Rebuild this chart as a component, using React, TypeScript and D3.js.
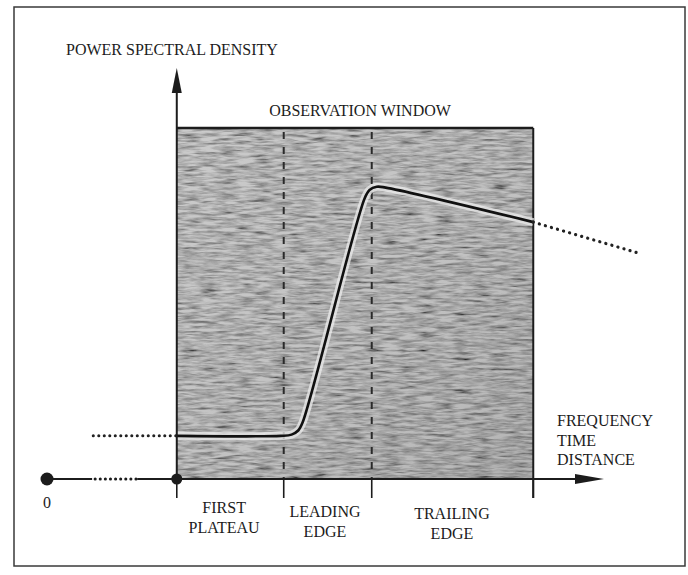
import React from "react";
import * as d3 from "d3";

// ---- data (abstract units: x 0..100 along the frequency axis, y 0..100 along PSD axis)
const xDomain: [number, number] = [0, 100];
const yDomain: [number, number] = [0, 100];
const windowStart = 23.3;
const windowEnd = 87.3;
const windowTop = 85.4;
const tickValues = [23.3, 42.5, 58.3, 87.3];
const dividerValues = [42.5, 58.3];
const zeroValue = 0;
const axisSolidLeft: [number, number] = [0, 8.1];
const axisDottedLeft: [number, number] = [8.1, 16.2];
const axisSolidRight: [number, number] = [16.2, 23.3];
const psdCurve: [number, number][] = [
  [23.3, 10.5],
  [42.0, 10.5],
  [43.9, 10.8],
  [45.1, 11.8],
  [45.9, 13.8],
  [57.0, 68.2],
  [57.9, 70.3],
  [59.2, 71.1],
  [60.8, 70.9],
  [87.3, 62.5],
];
const plateauExtension: [number, number][] = [
  [8.3, 10.5],
  [23.3, 10.5],
];
const trailingExtension: [number, number][] = [
  [87.3, 62.5],
  [106.1, 55.0],
];
const bandLabels = [
  { x: 31.8, lines: ["FIRST", "PLATEAU"] },
  { x: 49.9, lines: ["LEADING", "EDGE"] },
  { x: 72.7, lines: ["TRAILING", "EDGE"] },
];
const xAxisTitle = ["FREQUENCY", "TIME", "DISTANCE"];
const yAxisTitle = "POWER SPECTRAL DENSITY";
const windowTitle = "OBSERVATION WINDOW";
const zeroLabel = "0";

export default function App() {
  const W = 688;
  const H = 575;
  const x = d3.scaleLinear().domain(xDomain).range([47, 604]);
  const y = d3.scaleLinear().domain(yDomain).range([479, 68]);
  const line = d3
    .line<[number, number]>()
    .x((d) => x(d[0]))
    .y((d) => y(d[1]));
  const curveLine = d3
    .line<[number, number]>()
    .x((d) => x(d[0]))
    .y((d) => y(d[1]))
    .curve(d3.curveCatmullRom.alpha(0.5));

  const font = "'Liberation Serif', 'DejaVu Serif', serif";
  const ink = "#1c1c1c";
  const x0 = x(windowStart);
  const x1 = x(windowEnd);
  const yTop = y(windowTop);
  const yAxis = y(0);
  const bandBaselines = [513, 517, 519];
  const tickBottom = 498;
  const curvePath = curveLine(psdCurve) || "";

  return (
    <svg
      width={W}
      height={H}
      style={{ position: "absolute", left: 0, top: 0, background: "#fff" }}
    >
      <defs>
        <linearGradient id="base" x1="0" y1="0" x2="1" y2="1">
          <stop offset="0" stopColor="#cbcbcb" />
          <stop offset="0.55" stopColor="#c2c2c2" />
          <stop offset="1" stopColor="#b4b4b4" />
        </linearGradient>
        <filter id="grain" x="0" y="0" width="1" height="1" filterUnits="objectBoundingBox">
          <feTurbulence
            type="fractalNoise"
            baseFrequency="0.055 0.38"
            numOctaves={3}
            seed={7}
            result="t"
          />
          <feColorMatrix
            in="t"
            type="matrix"
            values="0.33 0.33 0.33 0 0  0.33 0.33 0.33 0 0  0.33 0.33 0.33 0 0  0 0 0 0 1"
            result="g"
          />
          <feComponentTransfer in="g" result="c">
            <feFuncR type="linear" slope={2.5} intercept={-0.5} />
            <feFuncG type="linear" slope={2.5} intercept={-0.5} />
            <feFuncB type="linear" slope={2.5} intercept={-0.5} />
          </feComponentTransfer>
          <feBlend in="SourceGraphic" in2="c" mode="multiply" result="m" />
          <feComposite in="m" in2="SourceGraphic" operator="in" />
        </filter>
      </defs>

      {/* outer frame */}
      <rect x={14} y={7} width={671} height={559} fill="none" stroke="#3a3a3a" strokeWidth={1.5} />

      {/* observation window */}
      <rect
        x={x0}
        y={yTop}
        width={x1 - x0}
        height={yAxis - yTop}
        fill="url(#base)"
        filter="url(#grain)"
      />
      <line x1={x0} x2={x1} y1={yTop} y2={yTop} stroke={ink} strokeWidth={2.5} />
      <line x1={x1} x2={x1} y1={yTop} y2={tickBottom} stroke={ink} strokeWidth={2} />

      {/* dashed dividers */}
      {dividerValues.map((v, i) => (
        <line
          key={i}
          x1={x(v)}
          x2={x(v)}
          y1={yTop + 4}
          y2={yAxis}
          stroke="#2a2a2a"
          strokeWidth={2}
          strokeDasharray="7 8"
        />
      ))}

      {/* curve halo and curve */}
      <path d={curvePath} fill="none" stroke="#ececec" strokeWidth={8} opacity={0.75} />
      <path d={curvePath} fill="none" stroke="#111" strokeWidth={2.6} strokeLinejoin="round" />
      <path
        d={line(plateauExtension) || ""}
        fill="none"
        stroke="#222"
        strokeWidth={3}
        strokeDasharray="0.1 5.4"
        strokeLinecap="round"
      />
      <path
        d={line(trailingExtension) || ""}
        fill="none"
        stroke="#222"
        strokeWidth={3.2}
        strokeDasharray="0.1 6.2"
        strokeLinecap="round"
      />

      {/* x axis */}
      <line x1={x(axisSolidLeft[0])} x2={x(axisSolidLeft[1])} y1={yAxis} y2={yAxis} stroke={ink} strokeWidth={2} />
      <line
        x1={x(axisDottedLeft[0]) + 3}
        x2={x(axisDottedLeft[1])}
        y1={yAxis}
        y2={yAxis}
        stroke={ink}
        strokeWidth={3}
        strokeDasharray="0.1 5"
        strokeLinecap="round"
      />
      <line x1={x(axisSolidRight[0])} x2={x(xDomain[1]) - 20} y1={yAxis} y2={yAxis} stroke={ink} strokeWidth={2} />
      <path
        d={`M${x(xDomain[1])},${yAxis} L${x(xDomain[1]) - 29},${yAxis - 5} L${x(xDomain[1]) - 29},${yAxis + 5} Z`}
        fill={ink}
      />
      {tickValues.map((v, i) => (
        <line key={i} x1={x(v)} x2={x(v)} y1={yAxis} y2={tickBottom} stroke={ink} strokeWidth={1.6} />
      ))}
      <circle cx={x(zeroValue)} cy={yAxis} r={6.5} fill={ink} />
      <circle cx={x(windowStart)} cy={yAxis} r={5.5} fill={ink} />

      {/* y axis */}
      <line x1={x0} x2={x0} y1={yAxis} y2={y(yDomain[1]) + 15} stroke={ink} strokeWidth={2} />
      <path
        d={`M${x0},${y(yDomain[1])} L${x0 - 5},${y(yDomain[1]) + 25} L${x0 + 5},${y(yDomain[1]) + 25} Z`}
        fill={ink}
      />

      {/* texts */}
      <g fontFamily={font} fontSize={16} fill={ink}>
        <text x={66} y={55}>{yAxisTitle}</text>
        <text x={360} y={116} textAnchor="middle">{windowTitle}</text>
        {xAxisTitle.map((t, i) => (
          <text key={t} x={557} y={426 + i * 19.5}>{t}</text>
        ))}
        <text x={x(zeroValue)} y={508} textAnchor="middle">{zeroLabel}</text>
        {bandLabels.map((b, i) => (
          <text key={i} x={x(b.x)} y={bandBaselines[i]} textAnchor="middle">
            {b.lines.map((l, j) => (
              <tspan key={j} x={x(b.x)} dy={j === 0 ? 0 : 20}>{l}</tspan>
            ))}
          </text>
        ))}
      </g>
    </svg>
  );
}
